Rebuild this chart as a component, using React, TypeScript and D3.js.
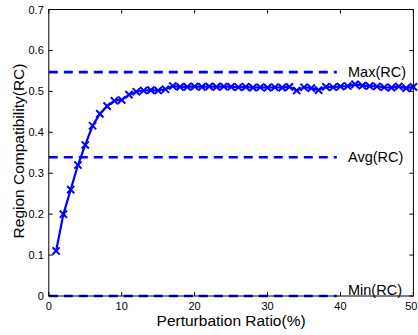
import React from "react";
import * as d3 from "d3";

const ratios: number[] = Array.from({ length: 50 }, (_, i) => i + 1);
const rcValues: number[] = [
  0.11, 0.2, 0.26, 0.32, 0.369, 0.416, 0.445, 0.464, 0.477, 0.479,
  0.492, 0.499, 0.502, 0.503, 0.502, 0.505, 0.513, 0.511, 0.511, 0.512,
  0.511, 0.512, 0.511, 0.512, 0.511, 0.51, 0.511, 0.509, 0.51, 0.509,
  0.51, 0.509, 0.511, 0.502, 0.51, 0.508, 0.503, 0.511, 0.51, 0.512,
  0.513, 0.517, 0.514, 0.513, 0.512, 0.51, 0.509, 0.512, 0.508, 0.511,
];
const refLines = [
  { label: "Max(RC)", value: 0.547 },
  { label: "Avg(RC)", value: 0.339 },
  { label: "Min(RC)", value: 0 },
];
const xTicks = [0, 10, 20, 30, 40, 50];
const yTicks = [0, 0.1, 0.2, 0.3, 0.4, 0.5, 0.6, 0.7];

export default function App() {
  const W = 418, H = 335;
  const x = d3.scaleLinear().domain([0, 50]).range([48.8, 413.4]);
  const y = d3.scaleLinear().domain([0, 0.7]).range([296, 9.5]);
  const line = d3.line<number>().x((_, i) => x(ratios[i])).y((d) => y(d));
  const blue = "#0000ff";
  const font = "'Liberation Sans', Arial, Helvetica, sans-serif";
  const dashEnd = x(39.5);
  return (
    <svg width={W} height={H} style={{ position: "absolute", left: 0, top: 0 }} fontFamily={font}>
      <rect x={0} y={0} width={W} height={H} fill="#fff" />
      {refLines.map((r) => (
        <g key={r.label}>
          <line x1={x(0)} x2={dashEnd} y1={y(r.value)} y2={y(r.value)} stroke={blue} strokeWidth={2.6} strokeDasharray="9,6" />
          <text x={348} y={r.value === 0 ? y(r.value) - 1.5 : y(r.value) + 5} fontSize={14.5} fill="#000">{r.label}</text>
        </g>
      ))}
      <path d={line(rcValues) || ""} fill="none" stroke={blue} strokeWidth={2.2} />
      {rcValues.map((v, i) => {
        const cx = x(ratios[i]), cy = y(v), s = 3.6;
        return (
          <path key={i} d={`M${cx - s},${cy - s}L${cx + s},${cy + s}M${cx - s},${cy + s}L${cx + s},${cy - s}`} stroke={blue} strokeWidth={2} />
        );
      })}
      <rect x={x(0)} y={y(0.7)} width={x(50) - x(0)} height={y(0) - y(0.7)} fill="none" stroke="#000" strokeWidth={1} />
      {xTicks.map((t) => (
        <g key={"x" + t}>
          <line x1={x(t)} x2={x(t)} y1={y(0)} y2={y(0) - 4} stroke="#000" />
          <line x1={x(t)} x2={x(t)} y1={y(0.7)} y2={y(0.7) + 4} stroke="#000" />
          <text x={t === 50 ? W - 0.5 : x(t)} y={y(0) + 14} fontSize={11} textAnchor={t === 50 ? "end" : "middle"} fill="#000">{t}</text>
        </g>
      ))}
      {yTicks.map((t) => (
        <g key={"y" + t}>
          <line x1={x(0)} x2={x(0) + 4} y1={y(t)} y2={y(t)} stroke="#000" />
          <line x1={x(50)} x2={x(50) - 4} y1={y(t)} y2={y(t)} stroke="#000" />
          <text x={x(0) - 5} y={y(t) + 4} fontSize={11} textAnchor="end" fill="#000">{t === 0 ? "0" : d3.format(".1f")(t)}</text>
        </g>
      ))}
      <text x={(x(0) + x(50)) / 2} y={326} fontSize={15.5} textAnchor="middle" fill="#000">Perturbation Ratio(%)</text>
      <text transform={`translate(24,151) rotate(-90)`} fontSize={15.5} textAnchor="middle" fill="#000">Region Compatibility(RC)</text>
    </svg>
  );
}
